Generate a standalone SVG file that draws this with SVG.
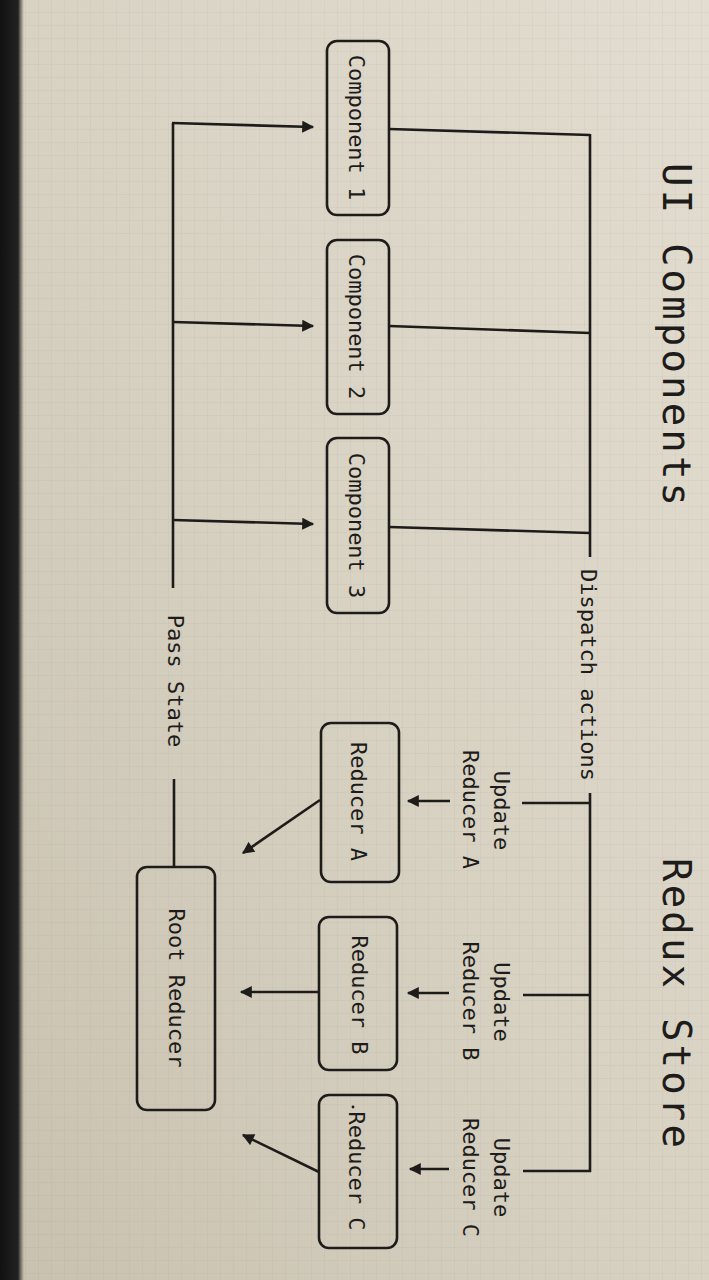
<svg xmlns="http://www.w3.org/2000/svg" width="709" height="1280" viewBox="0 0 709 1280">
<defs>
<linearGradient id="bg" x1="1" y1="0" x2="0" y2="1">
<stop offset="0" stop-color="#e2ddd0"/>
<stop offset="0.5" stop-color="#d8d2c3"/>
<stop offset="1" stop-color="#c8c1af"/>
</linearGradient>
<pattern id="grid" width="13" height="13" patternUnits="userSpaceOnUse">
<path d="M13,0 V13 M0,13 H13" fill="none" stroke="#7a7466" stroke-width="0.6" opacity="0.18"/>
</pattern>
<marker id="ah" viewBox="0 0 10 10" refX="9" refY="5" markerWidth="14" markerHeight="12" markerUnits="userSpaceOnUse" orient="auto">
<path d="M0,0 L10,5 L0,10 z" fill="#1e1c1a"/>
</marker>
<linearGradient id="edge" x1="0" y1="0" x2="1" y2="0">
<stop offset="0" stop-color="#111"/>
<stop offset="0.75" stop-color="#222"/>
<stop offset="1" stop-color="#3a3833" stop-opacity="0"/>
</linearGradient>
</defs>
<style>
.box{fill:none;stroke:#1e1c1a;stroke-width:2.6}
.ln{fill:none;stroke:#1e1c1a;stroke-width:2.6}
.arr{fill:none;stroke:#1e1c1a;stroke-width:2.6;marker-end:url(#ah)}
.t{font-family:"DejaVu Sans Mono","Liberation Mono",monospace;font-size:22px;fill:#1e1c1a;text-anchor:middle}
.h{font-family:"DejaVu Sans Mono","Liberation Mono",monospace;font-size:39px;fill:#1e1c1a;text-anchor:middle}
</style>
<rect width="709" height="1280" fill="url(#bg)"/>
<rect width="709" height="1280" fill="url(#grid)"/>
<rect x="0" y="0" width="24" height="1280" fill="url(#edge)"/>

<g id="title-ui"><text class="h" transform="translate(663,334.5) rotate(90)" textLength="343" lengthAdjust="spacing">UI Components</text></g>
<g id="title-redux"><text class="h" transform="translate(663,1003) rotate(90)" textLength="290" lengthAdjust="spacing">Redux Store</text></g>

<g id="component1"><rect class="box" x="327" y="41" width="62" height="174" rx="10"/><text class="t" transform="translate(349,127.5) rotate(90)">Component 1</text></g>
<g id="component2"><rect class="box" x="327" y="240" width="62" height="174" rx="10"/><text class="t" transform="translate(349,326.5) rotate(90)">Component 2</text></g>
<g id="component3"><rect class="box" x="327" y="438" width="62" height="175" rx="10"/><text class="t" transform="translate(349,525.5) rotate(90)">Component 3</text></g>

<g id="reducerA"><rect class="box" x="321" y="723" width="78" height="159" rx="10"/><text class="t" transform="translate(351,801.5) rotate(90)">Reducer A</text></g>
<g id="reducerB"><rect class="box" x="319" y="917" width="78" height="153" rx="10"/><text class="t" transform="translate(352,995) rotate(90)">Reducer B</text></g>
<g id="reducerC"><rect class="box" x="319" y="1095" width="78" height="153" rx="10"/><circle cx="353" cy="1107" r="1.4" fill="#1e1c1a"/><text class="t" transform="translate(349,1171) rotate(90)">Reducer C</text></g>
<g id="rootReducer"><rect class="box" x="137" y="867" width="78" height="243" rx="10"/><text class="t" transform="translate(169,988) rotate(90)">Root Reducer</text></g>

<g id="labels">
<text class="t" transform="translate(581,675) rotate(90)">Dispatch actions</text>
<text class="t" transform="translate(168,681) rotate(90)">Pass State</text>
<text class="t" transform="translate(494,810.5) rotate(90)">Update</text>
<text class="t" transform="translate(463,809.5) rotate(90)">Reducer A</text>
<text class="t" transform="translate(494,1002) rotate(90)">Update</text>
<text class="t" transform="translate(463,1001) rotate(90)">Reducer B</text>
<text class="t" transform="translate(494,1177.5) rotate(90)">Update</text>
<text class="t" transform="translate(463,1177.5) rotate(90)">Reducer C</text>
</g>

<g id="connectors">
<path class="ln" d="M590,134 V557"/>
<path class="ln" d="M389,129 L590,135"/>
<path class="ln" d="M389,326 L590,333"/>
<path class="ln" d="M389,527 L590,533"/>
<path class="ln" d="M590,793 V1172"/>
<path class="ln" d="M522,803 H590"/>
<path class="ln" d="M523,995 H590"/>
<path class="ln" d="M523,1171 H591"/>
<path class="arr" d="M450,801 H408"/>
<path class="arr" d="M449,993 H408"/>
<path class="arr" d="M449,1169 H410"/>
<path class="arr" d="M320,800 L243,853"/>
<path class="arr" d="M319,992 H241"/>
<path class="arr" d="M319,1172 L243,1135"/>
<path class="ln" d="M173,588 V123"/>
<path class="arr" d="M172,123 L313,127"/>
<path class="arr" d="M173,322 L313,326"/>
<path class="arr" d="M173,520 L313,524"/>
<path class="ln" d="M174,779 V867"/>
</g>
</svg>
